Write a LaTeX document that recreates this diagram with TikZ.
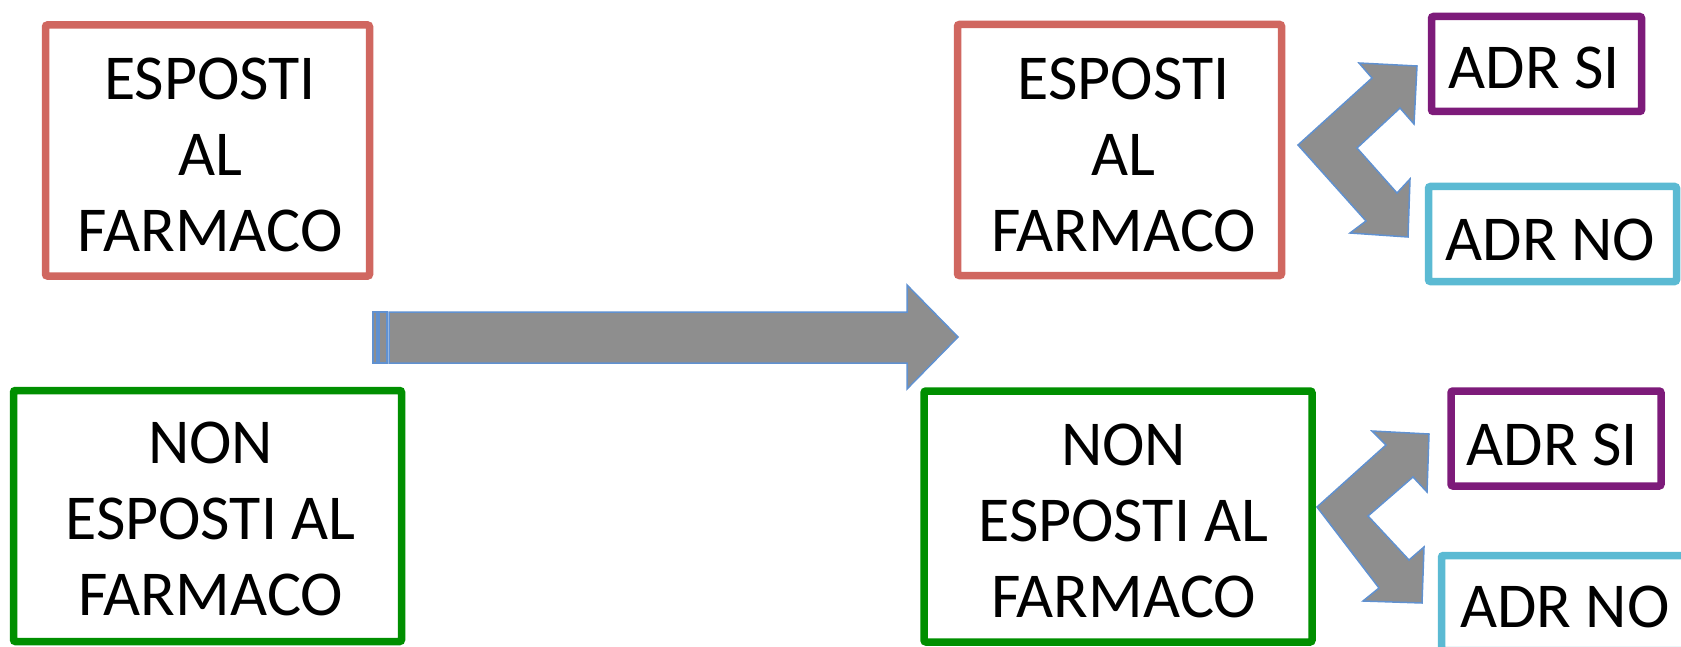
\documentclass[tikz,border=0pt]{standalone}
\usepackage{fontspec}
\setmainfont{Carlito}
\definecolor{boxred}{RGB}{208,103,96}
\definecolor{boxgreen}{RGB}{0,143,0}
\definecolor{boxpurple}{RGB}{125,27,122}
\definecolor{boxcyan}{RGB}{91,186,211}
\definecolor{arrowgray}{RGB}{142,142,142}
\definecolor{arrowblue}{RGB}{96,145,208}

\begin{document}
\begin{tikzpicture}[x=1pt,y=-1pt,
  framebox/.style={draw,line width=7.5pt,rounded corners=2pt,inner sep=0pt},
  redbox/.style={framebox,draw=boxred,minimum width=324pt,minimum height=251pt},
  greenbox/.style={framebox,draw=boxgreen,minimum width=388pt,minimum height=251pt},
  sibox/.style={framebox,draw=boxpurple,minimum width=210pt,minimum height=95pt},
  nobox/.style={framebox,draw=boxcyan,minimum width=248pt,minimum height=95pt},
  boxtext/.style={font=\fontsize{64}{76}\selectfont,align=center,inner sep=0pt},
  blockarrow/.style={fill=arrowgray,draw=arrowblue,line width=1.5pt,line join=miter}]
%%Frame
\useasboundingbox (0,0) rectangle (1681,647);
\clip (0,0) rectangle (1681,647);
%%Boxes left
\node[redbox] (expA) at (207.5,150.5) {};
\node[boxtext] (expAtxt) at (210,155) {ESPOSTI\\AL\\FARMACO};
\node[greenbox] (nonA) at (207.5,516) {};
\node[boxtext] (nonAtxt) at (210.5,519) {NON\\ESPOSTI AL\\FARMACO};
%%Boxes right
\node[redbox] (expB) at (1119.5,150) {};
\node[boxtext] (expBtxt) at (1123.5,155) {ESPOSTI\\AL\\FARMACO};
\node[greenbox] (nonB) at (1118,516.5) {};
\node[boxtext] (nonBtxt) at (1123.5,521) {NON\\ESPOSTI AL\\FARMACO};
%%Outcomes
\node[sibox] (siB) at (1536.5,64) {};
\node[boxtext] (siBtxt) at (1534.5,67.5) {ADR SI};
\node[nobox] (noB) at (1552.5,234) {};
\node[boxtext] (noBtxt) at (1550.5,240) {ADR NO};
\node[sibox] (siC) at (1556,438.5) {};
\node[boxtext] (siCtxt) at (1552.5,445) {ADR SI};
\node[nobox] (noC) at (1565.5,603) {};
\node[boxtext] (noCtxt) at (1565,607) {ADR NO};
%%Striped arrow
\draw[blockarrow] (373,312) rectangle (377,363);
\draw[blockarrow] (379,312) rectangle (387,363);
\draw[blockarrow] (389,312) -- (907,312) -- (907,285) -- (958,337) -- (907,389) -- (907,363) -- (389,363) -- cycle;
%%Forks
\draw[blockarrow] (1298,145) -- (1372,78) -- (1359,63) -- (1417,66) -- (1414,124) -- (1400,108) -- (1357,148) -- (1397,193) -- (1410,179) -- (1408,237) -- (1350,233) -- (1366,221) -- cycle;
\draw[blockarrow] (1317,507) -- (1386,445) -- (1372,431) -- (1429,434) -- (1427,492) -- (1413,477) -- (1368,516) -- (1409,560) -- (1424,547) -- (1422,603) -- (1363,601) -- (1379,588) -- cycle;
\end{tikzpicture}
\end{document}
